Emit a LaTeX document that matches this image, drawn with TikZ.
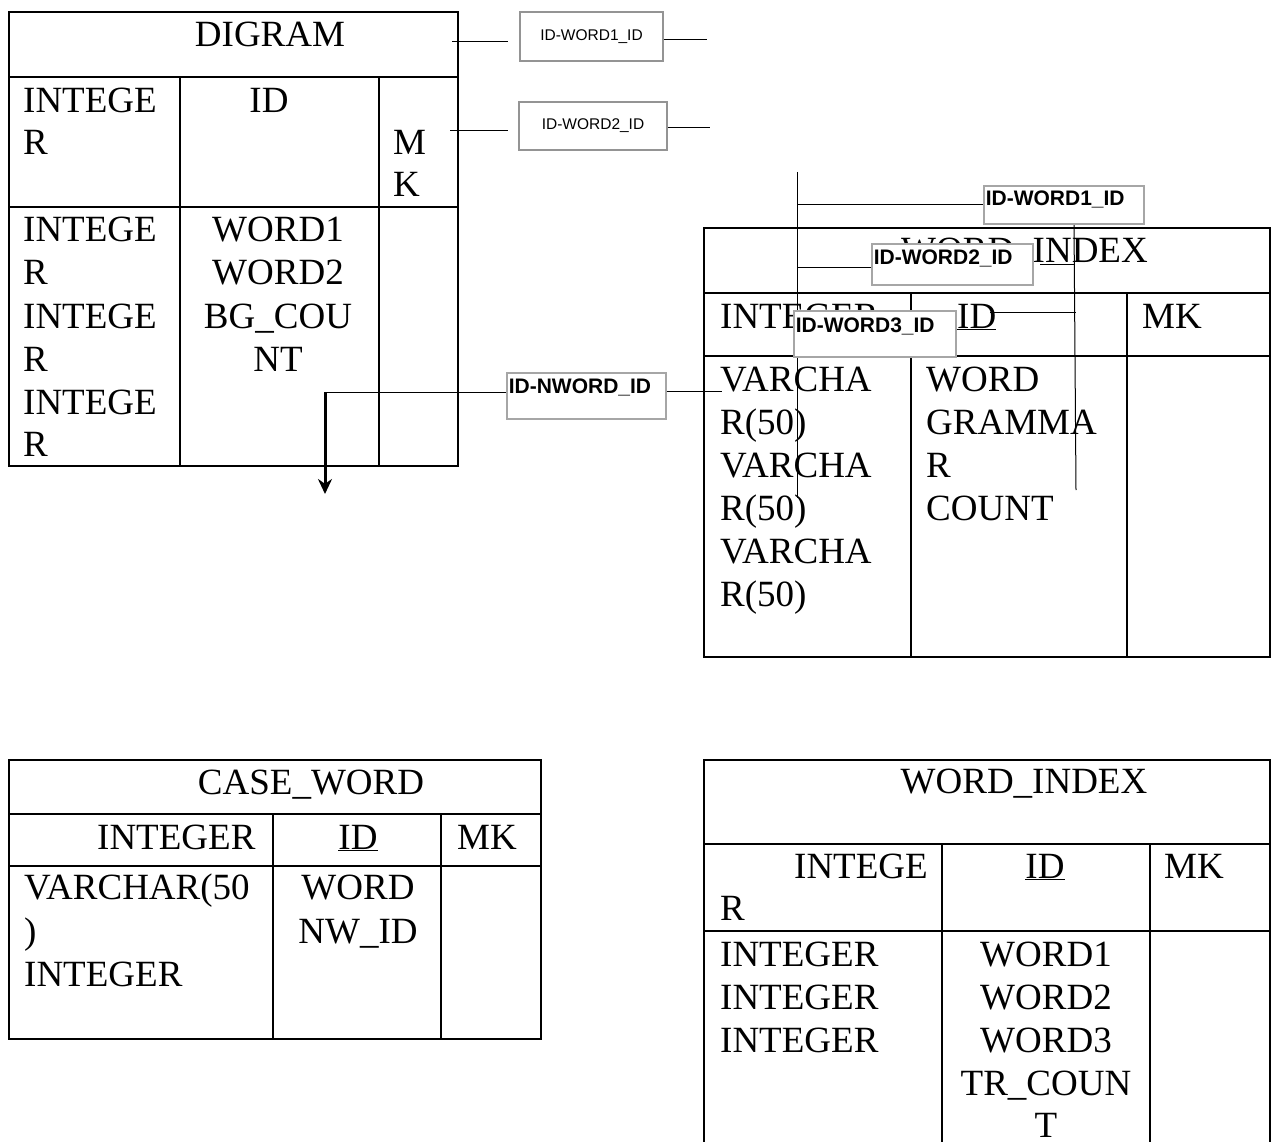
\documentclass[tikz,border=0pt]{standalone}
\usepackage{fontspec}
\setmainfont{Liberation Serif}
\newfontfamily\lblfont{Liberation Sans}
\usetikzlibrary{arrows.meta}
\newcommand{\tabfont}{\fontsize{37}{43}\selectfont}
\tikzset{
  tbl/.style={line width=1.8pt, black},
  tl/.style={font=\tabfont, inner sep=0pt, anchor=base west},
  tc/.style={font=\tabfont, inner sep=0pt, anchor=base},
  conn/.style={line width=1pt, black},
  lblthin/.style={draw=black!42, line width=1.6pt, fill=white, font=\lblfont\fontsize{15.5}{15.5}\selectfont, inner sep=0pt},
  lblbold/.style={draw=black!35, line width=1.6pt, fill=white, font=\lblfont\bfseries\fontsize{21}{21}\selectfont, inner ysep=0pt, inner xsep=2pt, align=left, anchor=north west},
}
\begin{document}
\begin{tikzpicture}[x=1pt,y=-1pt]
\useasboundingbox (0,0) rectangle (1275,1142);
\clip (0,0) rectangle (1275,1142);

% ---------------- DIGRAM table ----------------
\draw[tbl] (9,12) rectangle (458,466);
\draw[tbl] (9,77) -- (458,77);
\draw[tbl] (9,207) -- (458,207);
\draw[tbl] (180,77) -- (180,466);
\draw[tbl] (379,77) -- (379,466);
\node[tc] (dgT) at (270,47) {DIGRAM};
\node[tl] (dgA) at (23,113) {INTEGE};
\node[tl] (dgB) at (23,155) {R};
\node[tc] (dgId) at (269,113) {ID};
\node[tl] (dgM) at (393,155) {M};
\node[tl] (dgK) at (393,197) {K};
\foreach \t/\y [count=\i] in {INTEGE/242, R/285, INTEGE/328, R/371, INTEGE/414, R/456}
  \node[tl] (dgl\i) at (23,\y) {\t};
\foreach \t/\y [count=\i] in {WORD1/242, WORD2/285, BG\_COU/328, NT/371}
  \node[tc] (dgm\i) at (278,\y) {\t};

% ---------------- WORD_INDEX (top) ----------------
\draw[tbl] (704,228) rectangle (1270,657);
\draw[tbl] (704,293) -- (1270,293);
\draw[tbl] (704,356) -- (1270,356);
\draw[tbl] (911,293) -- (911,657);
\draw[tbl] (1127,293) -- (1127,657);
\node[tl] (wiT) at (901,262) {WORD\_INDEX};
\node[tl] (wiA) at (720,328) {INTEGER};
\node[tl] (wiId) at (957,328) {\underline{ID}};
\node[tl] (wiMK) at (1142,328) {MK};
\foreach \t/\y [count=\i] in {VARCHA/391, R(50)/434, VARCHA/477, R(50)/520, VARCHA/563, R(50)/606}
  \node[tl] (wil\i) at (720,\y) {\t};
\foreach \t/\y [count=\i] in {WORD/391, GRAMMA/434, R/477, COUNT/520}
  \node[tl] (wim\i) at (926,\y) {\t};

% ---------------- CASE_WORD ----------------
\draw[tbl] (9,760) rectangle (541,1039);
\draw[tbl] (9,814) -- (541,814);
\draw[tbl] (9,866) -- (541,866);
\draw[tbl] (273,814) -- (273,1039);
\draw[tbl] (441,814) -- (441,1039);
\node[tc] (cwT) at (311,794) {CASE\_WORD};
\node[tl] (cwA) at (97,849) {INTEGER};
\node[tc] (cwId) at (358,849) {\underline{ID}};
\node[tl] (cwMK) at (457,849) {MK};
\foreach \t/\y [count=\i] in {VARCHAR(50/899, )/943, INTEGER/986}
  \node[tl] (cwl\i) at (24,\y) {\t};
\foreach \t/\y [count=\i] in {WORD/899, NW\_ID/943}
  \node[tc] (cwm\i) at (358,\y) {\t};

% ---------------- WORD_INDEX (bottom) ----------------
\draw[tbl] (704,1150) -- (704,760) -- (1270,760) -- (1270,1150);
\draw[tbl] (704,844) -- (1270,844);
\draw[tbl] (704,931) -- (1270,931);
\draw[tbl] (942,844) -- (942,1150);
\draw[tbl] (1150,844) -- (1150,1150);
\node[tc] (bwT) at (1024,793) {WORD\_INDEX};
\node[tl] (bwA) at (794,878) {INTEGE};
\node[tl] (bwB) at (720,920) {R};
\node[tc] (bwId) at (1045,878) {\underline{ID}};
\node[tl] (bwMK) at (1164,878) {MK};
\foreach \t/\y [count=\i] in {INTEGER/966, INTEGER/1009, INTEGER/1052}
  \node[tl] (bwl\i) at (720,\y) {\t};
\foreach \t/\y [count=\i] in {WORD1/966, WORD2/1009, WORD3/1052, TR\_COUN/1095, T/1137}
  \node[tc] (bwm\i) at (1046,\y) {\t};

% ---------------- connectors (under labels) ----------------
\coordinate (a1s) at (452,42);  \coordinate (a1e) at (508,42);
\coordinate (a1r) at (707,40);
\coordinate (a2s) at (450,131); \coordinate (a2e) at (508,131);
\coordinate (a2r) at (710,128);
\draw[conn] (a1s) -- (a1e);
\draw[conn] (a2s) -- (a2e);

\coordinate (vL) at (797,172);  \coordinate (vLb) at (797,498);
\draw[conn] (vL) -- (vLb);
\coordinate (vR) at (1074,223); \coordinate (vRb) at (1076,490);
\draw[conn] (vR) -- (vRb);
\coordinate (h3s) at (990,312); \coordinate (h3e) at (1076,312);
\draw[conn] (h3s) -- (h3e);
\coordinate (h2s) at (1040,265); \coordinate (h2e) at (1074,265);
\draw[conn] (h2s) -- (h2e);

% ---------------- labels ----------------
\node[lblthin, minimum width=143pt, minimum height=49pt] (lw1) at (591.5,36.5) {ID-WORD1\_ID};
\node[lblthin, minimum width=148pt, minimum height=48pt] (lw2) at (593,126) {ID-WORD2\_ID};
\draw[conn] (lw1.east |- a1r) -- (a1r);
\draw[conn] (lw2.east |- a2r) -- (a2r);

\node[lblbold, text width=156pt, text height=20pt, text depth=18pt] (bw1) at (983,185) {ID-WORD1\_ID};
\node[lblbold, text width=157pt, text height=21pt, text depth=20pt] (bw2) at (871,243) {ID-WORD2\_ID};
\node[lblbold, text width=158pt, text height=22pt, text depth=24pt] (bw3) at (793,310) {ID-WORD3\_ID};
\node[lblbold, text width=155pt, text height=21pt, text depth=25pt] (nw) at (506,372) {ID-NWORD\_ID};

\draw[conn] (vL |- bw1.west) -- (bw1.west);
\draw[conn] (797,268) -- (bw2.west |- 0,268);

% NWORD connector with arrow
\coordinate (nwr) at (722,391);
\coordinate (corner) at (325,392);
\coordinate (tip) at (325,494);
\draw[conn] (nw.east |- nwr) -- (nwr);
\draw[conn] (nw.west |- corner) -- (corner);
\draw[line width=3pt, -{Stealth[length=15pt, width=14pt]}] (corner) -- (tip);
\end{tikzpicture}
\end{document}
